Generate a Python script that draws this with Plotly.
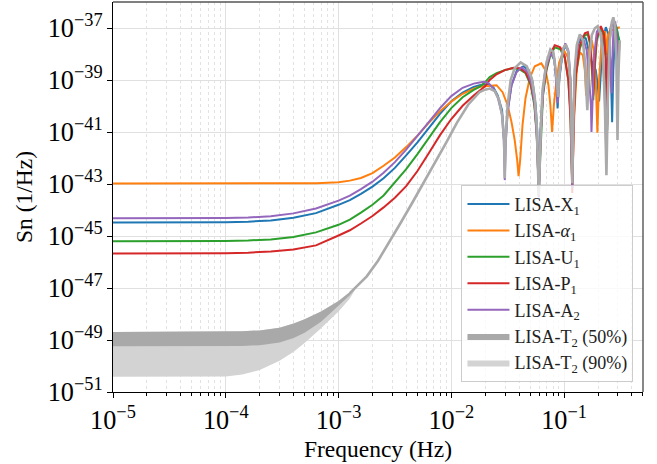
import plotly.graph_objects as go

# ---------------- data ----------------
# frequencies in Hz, noise PSD values given as log10(Sn [1/Hz])
FREQ_LOW = [1e-5, 3.16e-5, 1e-4, 1.58e-4, 2.51e-4, 3.98e-4, 6.31e-4, 1e-3, 1.26e-3,
            1.58e-3, 2e-3, 2.51e-3, 3.16e-3, 3.98e-3, 5.01e-3, 6.31e-3, 7.94e-3, 1e-2,
            1.26e-2, 1.58e-2, 1.78e-2]

# LISA-X1 (blue)
x1_low = [-44.48, -44.48, -44.47, -44.45, -44.40, -44.30, -44.12, -43.80, -43.62,
          -43.38, -43.10, -42.78, -42.38, -41.90, -41.40, -40.85, -40.30, -39.82,
          -39.48, -39.27, -39.20]
x1_hf_freq = [0.0207, 0.0236, 0.0258, 0.0282, 0.0298, 0.0316, 0.0342, 0.0379, 0.0437, 0.0486,
              0.0527, 0.0560, 0.0578, 0.0597, 0.0618, 0.0644, 0.0684, 0.0756, 0.0820, 0.0853,
              0.0876, 0.0906, 0.0964, 0.1025, 0.1091, 0.1136, 0.1160, 0.1183, 0.1208, 0.1244,
              0.1323, 0.1437, 0.1560, 0.1660, 0.1730, 0.1910, 0.1990, 0.2045, 0.2117, 0.2207,
              0.2346, 0.2494, 0.2598, 0.2668, 0.2735, 0.2820, 0.2940, 0.3087]
x1_hf = [-39.16, -39.28, -39.59, -40.16, -41.70, -40.16, -39.20, -38.66, -38.47, -38.62,
         -39.09, -39.97, -40.93, -43.43, -40.93, -39.59, -38.55, -37.93, -38.24, -39.00,
         -40.09, -39.00, -38.05, -37.66, -37.93, -39.00, -40.55, -42.97, -40.55, -38.82,
         -37.66, -37.32, -37.40, -37.86, -38.24, -38.62, -39.20, -39.82, -38.62, -37.47,
         -36.97, -37.28, -38.62, -40.62, -38.62, -37.28, -37.09, -37.47]

# LISA-alpha1 (orange)
a1_low = [-42.98, -42.98, -42.98, -42.98, -42.98, -42.98, -42.97, -42.93, -42.87,
          -42.77, -42.58, -42.30, -41.98, -41.58, -41.14, -40.65, -40.20, -39.83,
          -39.53, -39.33, -39.26]
a1_hf_freq = [0.0199, 0.0224, 0.0252, 0.0285, 0.0316, 0.0342, 0.0365, 0.0384, 0.0395, 0.0408,
              0.0428, 0.0455, 0.0496, 0.0550, 0.0629, 0.0684, 0.0727, 0.0756, 0.0783, 0.0812,
              0.0853, 0.0906, 0.0994, 0.1080, 0.1136, 0.1171, 0.1195, 0.1232, 0.1296, 0.1380,
              0.1466, 0.1528, 0.1569, 0.1616, 0.1690, 0.1760, 0.1830, 0.1910, 0.1975, 0.2047,
              0.2140, 0.2230, 0.2320, 0.2382, 0.2455, 0.2598, 0.2760, 0.2940, 0.3120]
a1_hf = [-39.24, -39.21, -39.20, -39.47, -39.97, -40.62, -41.31, -42.08, -42.70, -42.08,
         -40.74, -39.70, -38.93, -38.47, -38.36, -38.62, -39.20, -39.97, -41.00, -39.97,
         -39.09, -38.32, -37.86, -38.12, -39.00, -40.55, -42.28, -40.35, -38.62, -37.93,
         -38.05, -38.62, -39.59, -38.43, -37.62, -37.47, -37.86, -39.00, -41.03, -39.00,
         -37.66, -37.13, -37.16, -38.05, -37.28, -37.05, -37.09, -37.01, -36.97]

# LISA-U1 (green)
u1_low = [-45.20, -45.20, -45.19, -45.17, -45.13, -45.04, -44.86, -44.57, -44.37,
          -44.10, -43.80, -43.44, -42.95, -42.43, -41.85, -41.24, -40.62, -40.08,
          -39.66, -39.38, -39.27]
u1_hf_freq = [0.0199, 0.0219, 0.0252, 0.0298, 0.0348, 0.0405, 0.0455, 0.0506, 0.0545, 0.0572,
              0.0597, 0.0624, 0.0650, 0.0699, 0.0756, 0.0829, 0.0925, 0.1014, 0.1091, 0.1136,
              0.1175, 0.1220, 0.1270, 0.1380, 0.1528, 0.1624, 0.1707, 0.1780, 0.1815, 0.1866,
              0.1950, 0.2117, 0.2252, 0.2346, 0.2412, 0.2460, 0.2598, 0.2760, 0.2940, 0.3087]
u1_hf = [-39.09, -38.89, -38.74, -38.62, -38.55, -38.59, -38.74, -39.20, -39.97, -41.12,
         -43.24, -40.93, -39.59, -38.62, -38.05, -37.74, -37.82, -38.16, -39.00, -40.16,
         -42.66, -40.16, -38.82, -37.78, -37.28, -37.24, -37.66, -38.82, -39.78, -38.62,
         -37.47, -37.01, -37.28, -38.24, -40.93, -38.24, -37.01, -36.74, -37.01, -37.66]

# LISA-P1 (red)
p1_low = [-45.67, -45.67, -45.66, -45.64, -45.60, -45.52, -45.36, -44.98, -44.78,
          -44.52, -44.23, -43.90, -43.53, -43.08, -42.50, -41.82, -41.12, -40.50,
          -39.99, -39.60, -39.40]
p1_hf_freq = [0.0199, 0.0219, 0.0252, 0.0298, 0.0357, 0.0405, 0.0455, 0.0506, 0.0545, 0.0572,
              0.0597, 0.0624, 0.0650, 0.0699, 0.0756, 0.0829, 0.0925, 0.1014, 0.1091, 0.1141,
              0.1183, 0.1226, 0.1270, 0.1380, 0.1528, 0.1624, 0.1707, 0.1780, 0.1815, 0.1866,
              0.1950, 0.2117, 0.2252, 0.2346, 0.2412, 0.2460, 0.2598, 0.2760, 0.2910, 0.2978,
              0.3045, 0.3087]
p1_hf = [-39.24, -39.00, -38.78, -38.62, -38.53, -38.55, -38.70, -39.13, -39.86, -41.00,
         -43.31, -40.85, -39.47, -38.55, -37.97, -37.66, -37.74, -38.09, -39.00, -40.55,
         -43.35, -40.35, -38.82, -37.66, -37.20, -37.16, -37.55, -38.62, -39.59, -38.43,
         -37.36, -36.93, -37.20, -38.16, -40.74, -38.16, -36.93, -36.70, -37.28, -39.39,
         -38.24, -37.66]

# LISA-A2 (purple)
a2_low = [-44.32, -44.32, -44.31, -44.29, -44.24, -44.13, -43.94, -43.64, -43.45,
          -43.20, -42.91, -42.57, -42.16, -41.68, -41.17, -40.62, -40.08, -39.62,
          -39.30, -39.14, -39.10]
a2_hf_freq = [0.0196, 0.0214, 0.0236, 0.0258, 0.0282, 0.0292, 0.0298, 0.0305, 0.0316, 0.0342,
              0.0379, 0.0419, 0.0476, 0.0517, 0.0550, 0.0576, 0.0597, 0.0618, 0.0644, 0.0684,
              0.0756, 0.0820, 0.0853, 0.0879, 0.0906, 0.0964, 0.1025, 0.1091, 0.1136, 0.1160,
              0.1183, 0.1208, 0.1244, 0.1323, 0.1408, 0.1495, 0.1590, 0.1670, 0.1730, 0.1750,
              0.1790, 0.1850, 0.1950, 0.2030, 0.2140, 0.2230, 0.2290, 0.2375, 0.2450, 0.2505,
              0.2588, 0.2640, 0.2696, 0.2760, 0.2846, 0.2940, 0.3015]
a2_hf = [-39.07, -39.12, -39.32, -39.66, -40.35, -41.31, -42.85, -41.31, -40.24, -39.20,
         -38.70, -38.51, -38.70, -39.20, -39.97, -41.31, -43.51, -41.31, -39.78, -38.62,
         -37.97, -38.16, -39.00, -39.89, -38.93, -37.97, -37.59, -37.86, -38.93, -40.55,
         -43.16, -40.55, -38.62, -37.55, -37.32, -37.47, -37.86, -39.00, -39.97, -41.00,
         -39.78, -38.05, -37.16, -37.01, -37.28, -38.24, -39.59, -42.08, -39.39, -37.47,
         -38.43, -39.51, -37.86, -36.78, -36.78, -37.47, -39.39]

# LISA-T2 bands (50% and 90%) at low frequency
band_freq = [1e-5, 1e-4, 1.4e-4, 2e-4, 3e-4, 4e-4, 5e-4, 7e-4, 1e-3, 1.26e-3, 1.41e-3]
t2_upper = [-48.69, -48.68, -48.66, -48.63, -48.53, -48.37, -48.20, -47.90, -47.50, -47.15, -46.95]
t2_lower50 = [-49.24, -49.24, -49.23, -49.20, -49.10, -48.92, -48.72, -48.30, -47.70, -47.28, -47.02]
t2_lower90 = [-50.41, -50.40, -50.33, -50.15, -49.80, -49.45, -49.12, -48.55, -47.90, -47.40, -47.05]

# LISA-T2 median line (grey)
t2_freq = [1.26e-3, 1.41e-3, 1.78e-3, 2.24e-3, 2.82e-3, 3.55e-3, 4.47e-3, 5.62e-3, 7.08e-3,
           8.91e-3, 1.12e-2, 1.41e-2, 0.01786, 0.0199, 0.0219, 0.0243, 0.0265, 0.0282, 0.0294,
           0.0298, 0.0303, 0.0316, 0.0336, 0.0365, 0.0412, 0.0466, 0.0517, 0.0550, 0.0572,
           0.0597, 0.0624, 0.0644, 0.0699, 0.0756, 0.0803, 0.0844, 0.0885, 0.0915, 0.0983,
           0.1036, 0.1091, 0.1136, 0.1160, 0.1183, 0.1208, 0.1244, 0.1296, 0.1380, 0.1466,
           0.1528, 0.1608, 0.1670, 0.1760, 0.1874, 0.1990, 0.2117, 0.2207, 0.2297, 0.2375,
           0.2440, 0.2546, 0.2650, 0.2735, 0.2820, 0.2910, 0.2978, 0.3040, 0.3120]
t2_line = [-47.20, -47.00, -46.55, -45.95, -45.25, -44.50, -43.75, -43.00, -42.25,
           -41.45, -40.65, -39.95, -39.46, -39.37, -39.33, -39.43, -39.77, -40.35, -41.31,
           -42.78, -41.31, -39.97, -39.00, -38.55, -38.32, -38.47, -38.93, -39.70, -40.74,
           -43.43, -40.74, -39.39, -38.32, -37.82, -37.93, -38.62, -39.65, -38.62, -37.78,
           -37.63, -37.93, -39.00, -40.55, -42.97, -40.55, -38.62, -37.66, -37.24, -37.47,
           -38.24, -40.16, -38.24, -37.28, -37.01, -36.93, -37.28, -38.05, -39.78, -42.66,
           -39.78, -37.47, -36.78, -36.59, -36.90, -38.24, -41.31, -38.62, -37.47]

# ---------------- figure ----------------
def lin(vals):
    return [10 ** v for v in vals]

FONT = "Liberation Serif"
series = [
    ("LISA-X<sub>1</sub>", x1_low, x1_hf_freq, x1_hf, "#1f77b4"),
    ("LISA-<i>α</i><sub>1</sub>", a1_low, a1_hf_freq, a1_hf, "#ff7f0e"),
    ("LISA-U<sub>1</sub>", u1_low, u1_hf_freq, u1_hf, "#2ca02c"),
    ("LISA-P<sub>1</sub>", p1_low, p1_hf_freq, p1_hf, "#d62728"),
    ("LISA-A<sub>2</sub>", a2_low, a2_hf_freq, a2_hf, "#9467bd"),
]

fig = go.Figure()
for rank, (name, low, hf_f, hf_v, color) in enumerate(series, start=1):
    fig.add_trace(go.Scatter(
        x=FREQ_LOW + hf_f, y=lin(low + hf_v), mode="lines", name=name,
        line=dict(color=color, width=2), legendrank=rank))

# 90% band (light) then 50% band (dark)
fig.add_trace(go.Scatter(x=band_freq, y=lin(t2_lower90), mode="lines",
                         line=dict(width=0, color="#d3d3d3"), showlegend=False, hoverinfo="skip"))
fig.add_trace(go.Scatter(x=band_freq, y=lin(t2_upper), mode="lines", fill="tonexty",
                         fillcolor="#d3d3d3", line=dict(width=0, color="#d3d3d3"),
                         name="LISA-T<sub>2</sub> (90%)", legendrank=7))
fig.add_trace(go.Scatter(x=band_freq, y=lin(t2_lower50), mode="lines",
                         line=dict(width=0, color="#a9a9a9"), showlegend=False, hoverinfo="skip"))
fig.add_trace(go.Scatter(x=band_freq, y=lin(t2_upper), mode="lines", fill="tonexty",
                         fillcolor="#a9a9a9", line=dict(width=0, color="#a9a9a9"),
                         name="LISA-T<sub>2</sub> (50%)", legendrank=6))
fig.add_trace(go.Scatter(x=t2_freq, y=lin(t2_line), mode="lines",
                         line=dict(color="#aaaaaa", width=2.6), showlegend=False))

axis_common = dict(
    type="log", showline=True, linecolor="black", linewidth=1.2,
    ticks="outside", ticklen=5, tickwidth=1.2, tickcolor="black",
    showgrid=True, gridcolor="#e0e0e0", gridwidth=1.4,
    exponentformat="power", zeroline=False,
    tickfont=dict(family=FONT, size=21, color="black"),
)
fig.update_xaxes(
    **axis_common, range=[-5, -0.3], dtick=1,
    minor=dict(dtick="D1", ticks="outside", ticklen=3, tickwidth=1, tickcolor="black",
               showgrid=True, gridcolor="#e2e2e2", griddash="dot", gridwidth=0.8),
    title=dict(text="Frequency (Hz)", font=dict(family=FONT, size=23.5, color="black"), standoff=7),
)
fig.update_yaxes(
    **axis_common, range=[-51, -36], dtick=2, tick0=-37,
    title=dict(text="Sn (1/Hz)", font=dict(family=FONT, size=23.5, color="black"), standoff=8),
)

fig.add_shape(type="line", xref="paper", yref="paper", x0=0, x1=1, y0=1, y1=1,
              line=dict(color="#555555", width=1.4))
fig.add_shape(type="line", xref="paper", yref="paper", x0=1, x1=1, y0=0, y1=1,
              line=dict(color="#555555", width=1.4))

fig.update_layout(
    width=657, height=464,
    margin=dict(l=113, r=14, t=2, b=72),
    paper_bgcolor="white", plot_bgcolor="white",
    font=dict(family=FONT, color="black"),
    showlegend=True,
    legend=dict(x=0.982, y=0.026, xanchor="right", yanchor="bottom",
                bgcolor="rgba(255,255,255,0.8)", bordercolor="#cccccc", borderwidth=1,
                itemwidth=42,
                font=dict(family=FONT, size=18, color="#222222"), traceorder="normal"),
)

fig.write_html("out.html")
